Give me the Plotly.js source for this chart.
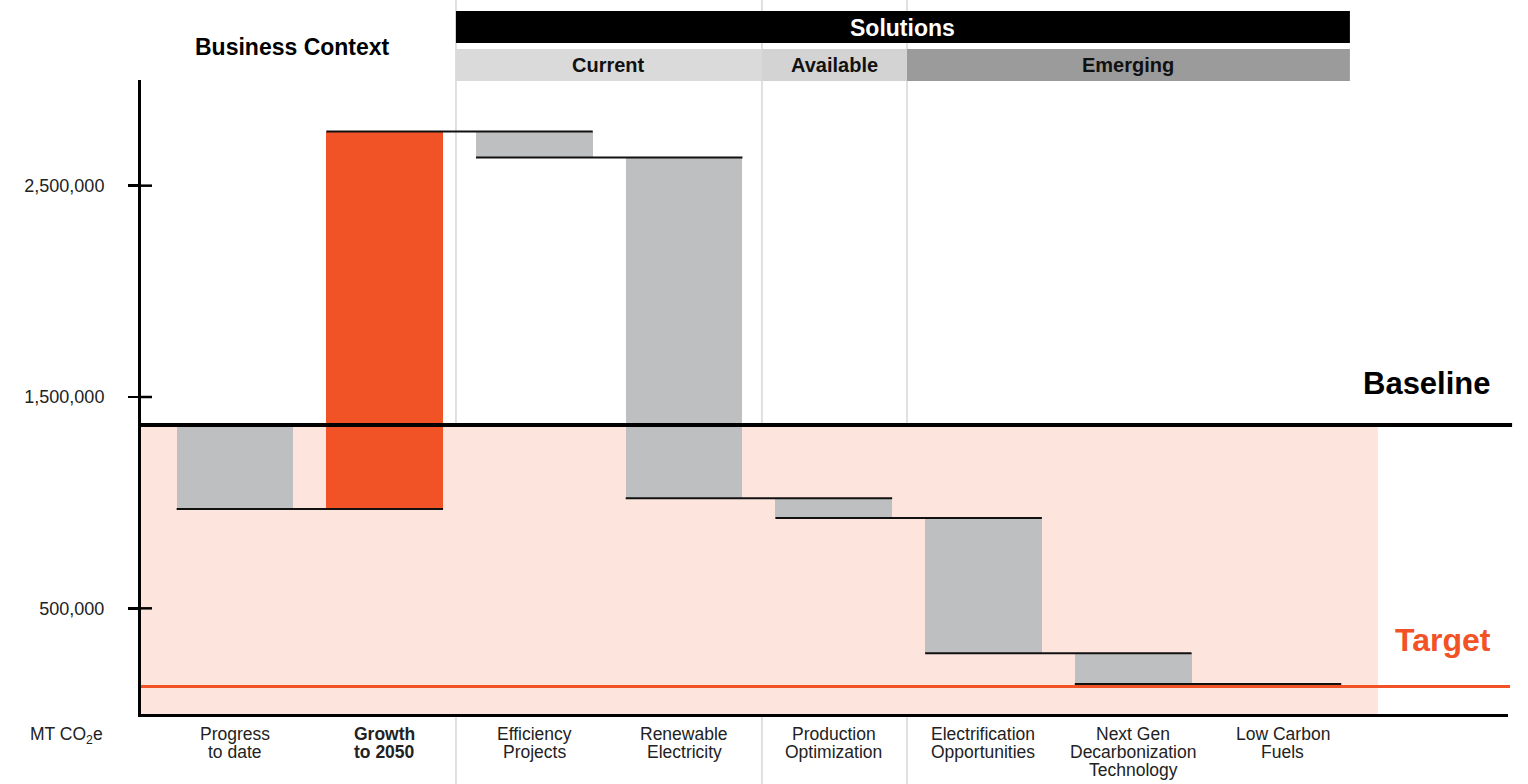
<!DOCTYPE html>
<html>
<head>
<meta charset="utf-8">
<script src="https://cdn.plot.ly/plotly-3.0.1.min.js"></script>
<style>html,body{margin:0;padding:0;background:#fff;}#chart{width:1528px;height:784px;}</style>
</head>
<body>
<div id="chart"></div>
<script>
// ---- data ----
const categories = ["Progress<br>to date", "Growth<br>to 2050", "Efficiency<br>Projects", "Renewable<br>Electricity", "Production<br>Optimization", "Electrification<br>Opportunities", "Next Gen<br>Decarbonization<br>Technology", "Low Carbon<br>Fuels"];
const boldCategory = [false, true, false, false, false, false, false, false];
const baselineValue = 1367000;
const targetValue = 130000;
const deltas = [-397000, 1786000, -123000, -1612000, -94000, -640000, -145000, -8000];
const barColors = ["#bebfc1", "#f15226", "#bebfc1", "#bebfc1", "#bebfc1", "#bebfc1", "#bebfc1", "#bebfc1"];
const yTickVals = [500000, 1500000, 2500000];
const yTickText = ["500,000", "1,500,000", "2,500,000"];
const groups = [
  {name: "Current", from: 1.476, to: 3.52, color: "#dadada"},
  {name: "Available", from: 3.52, to: 4.489, color: "#d3d3d3"},
  {name: "Emerging", from: 4.489, to: 7.448, color: "#9b9b9b"}
];
const separators = [1.476, 3.52, 4.489];

// ---- build ----
const FONT = "Liberation Sans, Arial, Helvetica, sans-serif";
const PLOT_H = 634, PLOT_W = 1367, AXIS_Y = 714, LEFT = 141;
const py = p => (AXIS_Y - p) / PLOT_H;   // page pixel y -> paper y
const halfW = 0.39;
const xs = categories.map((_, i) => i);
const levels = [baselineValue];
deltas.forEach(d => levels.push(levels[levels.length - 1] + d));
const bases = deltas.map((d, i) => Math.min(levels[i], levels[i + 1]));
const heights = deltas.map(d => Math.abs(d));

// connectors between consecutive bars: from left edge of bar i to right edge of bar i+1
const connX = [], connY = [];
for (let i = 0; i < deltas.length - 1; i++) {
  const lv = levels[i + 1];
  connX.push(i - halfW, i + 1 + halfW, null);
  connY.push(lv, lv, null);
}

const traces = [
  {type: "bar", x: xs, y: heights, base: bases, width: 2 * halfW,
   marker: {color: barColors, line: {width: 0}}, hoverinfo: "skip", showlegend: false},
  {type: "scatter", mode: "lines", x: connX, y: connY,
   line: {color: "#111", width: 2}, hoverinfo: "skip", showlegend: false}
];

const shapes = [];
shapes.push({type: "rect", xref: "x", yref: "y", x0: -0.628, x1: 7.635, y0: 0, y1: baselineValue,
  fillcolor: "#fde4dd", line: {width: 0}, layer: "below"});
separators.forEach(s => shapes.push({type: "line", xref: "x", yref: "paper", x0: s, x1: s, y0: py(784), y1: py(0),
  line: {color: "#d6d6d6", width: 1.5}, layer: "below"}));
yTickVals.forEach(v => shapes.push({type: "line", xref: "paper", yref: "y", x0: 0, x1: 11 / PLOT_W, y0: v, y1: v,
  line: {color: "#000", width: 2.5}, layer: "above"}));
shapes.push({type: "line", xref: "paper", yref: "y", x0: 0, x1: 1.003, y0: baselineValue, y1: baselineValue,
  line: {color: "#000", width: 4}, layer: "above"});
shapes.push({type: "line", xref: "paper", yref: "y", x0: 0, x1: 1.0015, y0: targetValue, y1: targetValue,
  line: {color: "#f15226", width: 3}, layer: "above"});
// headers
shapes.push({type: "rect", xref: "x", yref: "paper", x0: 1.476, x1: 7.448, y0: py(43), y1: py(11),
  fillcolor: "#000", line: {width: 0}, layer: "above"});
groups.forEach(g => shapes.push({type: "rect", xref: "x", yref: "paper", x0: g.from, x1: g.to,
  y0: py(81), y1: py(49), fillcolor: g.color, line: {width: 0}, layer: "above"}));

const annotations = [
  {text: "<b>Solutions</b>", xref: "x", yref: "paper", x: (1.476 + 7.448) / 2, y: py(28),
   showarrow: false, font: {family: FONT, size: 23, color: "#fff"}, xanchor: "center", yanchor: "middle"},
  {text: "<b>Business Context</b>", xref: "x", yref: "paper", x: 0.387, y: py(47),
   showarrow: false, font: {family: FONT, size: 23, color: "#000"}, xanchor: "center", yanchor: "middle"},
  {text: "MT CO<sub>2</sub>e", xref: "paper", yref: "paper", x: (105 - LEFT) / PLOT_W, y: py(735),
   showarrow: false, font: {family: FONT, size: 17.5, color: "#222"}, xanchor: "right", yanchor: "middle"},
  {text: "<b>Baseline</b>", xref: "paper", yref: "paper", x: (1493 - LEFT) / PLOT_W, y: py(383),
   showarrow: false, font: {family: FONT, size: 31, color: "#000"}, xanchor: "right", yanchor: "middle"},
  {text: "<b>Target</b>", xref: "paper", yref: "paper", x: (1493 - LEFT) / PLOT_W, y: py(640),
   showarrow: false, font: {family: FONT, size: 32, color: "#f15226"}, xanchor: "right", yanchor: "middle"}
];
groups.forEach(g => annotations.push({text: "<b>" + g.name + "</b>", xref: "x", yref: "paper",
  x: (g.from + g.to) / 2, y: py(65), showarrow: false,
  font: {family: FONT, size: 20, color: "#111"}, xanchor: "center", yanchor: "middle"}));
// category labels, one annotation per line, tight line spacing like the reference
categories.forEach((c, i) => {
  c.split("<br>").forEach((line, k) => {
    annotations.push({text: boldCategory[i] ? "<b>" + line + "</b>" : line, xref: "x", yref: "paper",
      x: i, y: py(734 + 18 * k), showarrow: false,
      font: {family: FONT, size: 17.5, color: "#222"}, xanchor: "center", yanchor: "middle"});
  });
});

const layout = {
  width: 1528, height: 784,
  margin: {l: LEFT, r: 20, t: 80, b: 70, pad: 0},
  paper_bgcolor: "#fff", plot_bgcolor: "rgba(0,0,0,0)",
  font: {family: FONT, size: 15, color: "#222"},
  showlegend: false,
  bargap: 0,
  xaxis: {range: [-0.628, 8.504], tickvals: xs, showticklabels: false, showgrid: false, zeroline: false,
    showline: true, linecolor: "#000", linewidth: 3, ticks: "", fixedrange: true},
  yaxis: {range: [0, 3000000], tickvals: yTickVals, ticktext: yTickText, showgrid: false, zeroline: false,
    showline: true, linecolor: "#000", linewidth: 3, ticks: "outside", ticklen: 10, tickwidth: 2.5, tickcolor: "#000",
    ticklabelstandoff: 20, tickfont: {family: FONT, size: 18, color: "#222"}, fixedrange: true},
  shapes: shapes,
  annotations: annotations
};

Plotly.newPlot("chart", traces, layout, {displayModeBar: false, staticPlot: true});
</script>
</body>
</html>
